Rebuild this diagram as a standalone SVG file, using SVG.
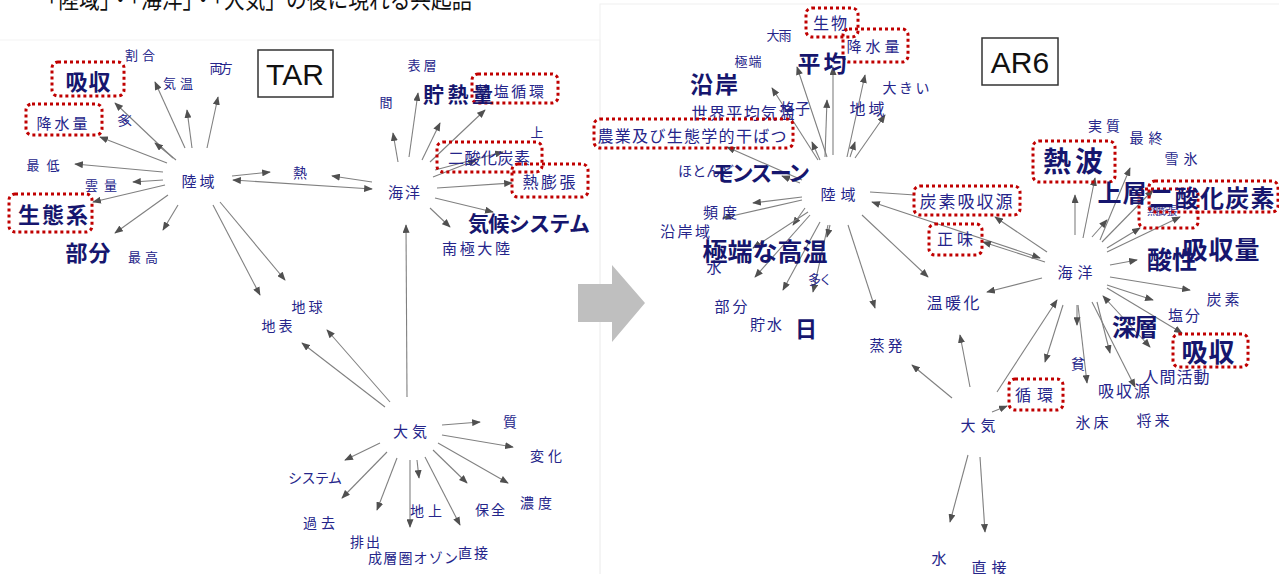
<svg xmlns="http://www.w3.org/2000/svg" width="1279" height="574" viewBox="0 0 1279 574">
<defs>
<marker id="ah" viewBox="0 0 10 8" refX="9" refY="4" markerWidth="9" markerHeight="7" markerUnits="userSpaceOnUse" orient="auto-start-reverse">
<path d="M0,0 L10,4 L0,8 Z" fill="#505050"/>
</marker>
<style>
text{font-family:"Noto Sans CJK JP","Noto Sans",sans-serif;fill:#25258a;text-anchor:middle;dominant-baseline:central}
.b{font-weight:bold;fill:#16166e}
.c{stroke:#808080;stroke-width:1.1;fill:none;marker-end:url(#ah)}
.d{stroke:#808080;stroke-width:1.1;fill:none;marker-end:url(#ah);marker-start:url(#ah)}
.n{stroke:#808080;stroke-width:1.1;fill:none}
.box{fill:none;stroke:#c00000;stroke-width:3;stroke-dasharray:3 3;rx:6}
.lab{fill:none;stroke:#333;stroke-width:1.5}
.en{font-family:"Liberation Sans",Arial,sans-serif;fill:#111;font-size:30px}
</style>
</defs>
<rect width="1279" height="574" fill="#fff"/>
<rect x="-2" y="40" width="602" height="540" fill="none" stroke="#f4f4f4"/>
<rect x="600" y="4" width="690" height="580" fill="none" stroke="#f0f0f0"/>
<text x="255" y="-3" style="font-size:24px;fill:#111" textLength="435" lengthAdjust="spacingAndGlyphs">「陸域」・「海洋」・「大気」の後に現れる共起語</text>

<polygon id="bigarrow" points="578,284 612,284 612,265 645,303 612,342 612,322 578,322" fill="#bfbfbf"/>

<g id="connectors">
<line class="c" x1="173" y1="158" x2="115" y2="103"/>
<line class="c" x1="176" y1="160" x2="155" y2="143"/>
<line class="c" x1="185" y1="148" x2="155" y2="82"/>
<line class="c" x1="192" y1="148" x2="187" y2="110"/>
<line class="c" x1="207" y1="148" x2="218" y2="97"/>
<line class="c" x1="167" y1="163" x2="100" y2="137"/>
<line class="c" x1="163" y1="172" x2="75" y2="164"/>
<line class="c" x1="163" y1="180" x2="133" y2="182"/>
<line class="c" x1="165" y1="185" x2="93" y2="202"/>
<line class="c" x1="168" y1="195" x2="115" y2="233"/>
<line class="c" x1="178" y1="205" x2="163" y2="230"/>
<line class="c" x1="213" y1="205" x2="260" y2="295"/>
<line class="c" x1="220" y1="202" x2="285" y2="280"/>
<line class="c" x1="232" y1="176" x2="270" y2="172"/>
<line class="c" x1="372" y1="182" x2="332" y2="176"/>
<line class="d" x1="233" y1="180" x2="372" y2="189"/>
<line class="c" x1="398" y1="162" x2="393" y2="133"/>
<line class="c" x1="409" y1="157" x2="418" y2="93"/>
<line class="c" x1="422" y1="160" x2="440" y2="123"/>
<line class="c" x1="430" y1="162" x2="485" y2="110"/>
<line class="c" x1="435" y1="170" x2="503" y2="152"/>
<line class="c" x1="433" y1="177" x2="476" y2="160"/>
<line class="c" x1="437" y1="188" x2="512" y2="183"/>
<line class="c" x1="435" y1="198" x2="493" y2="212"/>
<line class="c" x1="430" y1="208" x2="450" y2="227"/>
<line class="c" x1="407" y1="397" x2="406" y2="225"/>
<line class="c" x1="385" y1="407" x2="302" y2="343"/>
<line class="c" x1="390" y1="402" x2="327" y2="330"/>
<line class="c" x1="442" y1="425" x2="480" y2="422"/>
<line class="c" x1="442" y1="435" x2="513" y2="447"/>
<line class="c" x1="438" y1="443" x2="508" y2="483"/>
<line class="c" x1="433" y1="450" x2="467" y2="483"/>
<line class="c" x1="425" y1="457" x2="460" y2="525"/>
<line class="c" x1="417" y1="460" x2="419" y2="478"/>
<line class="c" x1="410" y1="460" x2="410" y2="527"/>
<line class="c" x1="397" y1="458" x2="377" y2="510"/>
<line class="c" x1="387" y1="452" x2="342" y2="498"/>
<line class="c" x1="380" y1="443" x2="345" y2="460"/>

<line class="c" x1="818" y1="160" x2="772" y2="88"/>
<line class="c" x1="827" y1="157" x2="797" y2="67"/>
<line class="c" x1="833" y1="155" x2="833" y2="67"/>
<line class="c" x1="847" y1="157" x2="865" y2="75"/>
<line class="c" x1="855" y1="158" x2="885" y2="115"/>
<line class="c" x1="825" y1="157" x2="827" y2="100"/>
<line class="c" x1="820" y1="160" x2="812" y2="142"/>
<line class="c" x1="850" y1="157" x2="855" y2="142"/>
<line class="c" x1="802" y1="180" x2="727" y2="147"/>
<line class="c" x1="800" y1="183" x2="782" y2="176"/>
<line class="c" x1="802" y1="197" x2="753" y2="203"/>
<line class="c" x1="802" y1="200" x2="723" y2="218"/>
<line class="c" x1="805" y1="208" x2="793" y2="225"/>
<line class="c" x1="808" y1="212" x2="753" y2="248"/>
<line class="c" x1="810" y1="215" x2="755" y2="277"/>
<line class="c" x1="820" y1="222" x2="783" y2="290"/>
<line class="c" x1="828" y1="225" x2="813" y2="292"/>
<line class="c" x1="830" y1="225" x2="827" y2="237"/>
<line class="c" x1="848" y1="225" x2="875" y2="308"/>
<line class="c" x1="862" y1="215" x2="928" y2="277"/>
<line class="n" x1="870" y1="192" x2="915" y2="195"/>
<line class="d" x1="872" y1="202" x2="1040" y2="258"/>
<line class="c" x1="1047" y1="252" x2="995" y2="217"/>
<line class="c" x1="1045" y1="262" x2="983" y2="242"/>

<line class="c" x1="1075" y1="235" x2="1075" y2="195"/>
<line class="c" x1="1083" y1="238" x2="1095" y2="178"/>
<line class="c" x1="1100" y1="240" x2="1130" y2="168"/>
<line class="c" x1="1092" y1="237" x2="1107" y2="220"/>
<line class="c" x1="1102" y1="242" x2="1153" y2="190"/>
<line class="c" x1="1107" y1="248" x2="1140" y2="228"/>
<line class="c" x1="1107" y1="252" x2="1180" y2="217"/>
<line class="c" x1="1110" y1="265" x2="1137" y2="260"/>
<line class="c" x1="1110" y1="277" x2="1190" y2="290"/>
<line class="c" x1="1107" y1="285" x2="1153" y2="300"/>
<line class="c" x1="1107" y1="288" x2="1182" y2="333"/>
<line class="d" x1="1150" y1="347" x2="1103" y2="296"/>
<line class="c" x1="1092" y1="302" x2="1135" y2="387"/>
<line class="c" x1="1097" y1="302" x2="1110" y2="353"/>
<line class="c" x1="1078" y1="305" x2="1087" y2="383"/>
<line class="c" x1="1077" y1="305" x2="1077" y2="325"/>
<line class="c" x1="1063" y1="305" x2="1045" y2="362"/>
<line class="c" x1="997" y1="392" x2="1057" y2="300"/>
<line class="c" x1="1042" y1="278" x2="987" y2="292"/>
<line class="c" x1="970" y1="387" x2="960" y2="335"/>
<line class="c" x1="952" y1="398" x2="912" y2="365"/>
<line class="c" x1="992" y1="412" x2="1007" y2="406"/>
<line class="c" x1="968" y1="455" x2="950" y2="522"/>
<line class="c" x1="980" y1="457" x2="985" y2="532"/>
</g>

<g id="tar-label"><rect class="lab" x="258" y="50" width="75" height="47"/><text class="en" x="295" y="74" style="fill:#111">TAR</text></g>
<g id="ar6-label"><rect class="lab" x="982" y="38" width="76" height="47"/><text class="en" x="1020" y="62" style="fill:#111">AR6</text></g>

<g id="tar-hubs">
<text x="198" y="180" style="font-size:15px" textLength="33">陸域</text>
<text x="404" y="191" style="font-size:15px" textLength="32">海洋</text>
<text x="410" y="430" style="font-size:15px" textLength="34">大気</text>
</g>

<g id="tar-rikuiki">
<text x="300" y="172" style="font-size:14px">熱</text>
<text x="140" y="54" style="font-size:13px" textLength="30">割合</text>
<rect class="box" x="52" y="62" width="72" height="34"/>
<text class="b" x="88" y="80" style="font-size:22px" textLength="45">吸収</text>
<text x="178" y="82" style="font-size:13px" textLength="30">気温</text>
<text x="221" y="67" style="font-size:13px" textLength="23">両方</text>
<text x="126" y="119" style="font-size:13px" textLength="18">多く</text>
<rect class="box" x="26" y="104" width="76" height="31"/>
<text x="62" y="122" style="font-size:15px" textLength="51">降水量</text>
<text x="43" y="164" style="font-size:13px" textLength="33">最低</text>
<text x="101" y="184" style="font-size:13px" textLength="32">雲量</text>
<rect class="box" x="9" y="194" width="83" height="38"/>
<text class="b" x="53" y="213" style="font-size:22px" textLength="70">生態系</text>
<text class="b" x="88" y="251" style="font-size:22px" textLength="45">部分</text>
<text x="143" y="256" style="font-size:13px" textLength="30">最高</text>
<text x="307" y="306" style="font-size:14px" textLength="31">地球</text>
<text x="277" y="325" style="font-size:14px" textLength="31">地表</text>
</g>

<g id="tar-kaiyo">
<text x="422" y="64" style="font-size:13px" textLength="29">表層</text>
<text x="386" y="101" style="font-size:13px">間</text>
<rect class="box" x="472" y="74" width="86" height="29"/>
<text x="510" y="90" style="font-size:15px" textLength="68">熱塩循環</text>
<text class="b" x="458" y="93" style="font-size:21px" textLength="70">貯熱量</text>
<text x="537" y="131" style="font-size:13px">上</text>
<rect class="box" x="437" y="142" width="105" height="30"/>
<text x="489" y="157" style="font-size:16px" textLength="82">二酸化炭素</text>
<rect class="box" x="512" y="164" width="76" height="33"/>
<text x="549" y="181" style="font-size:16px" textLength="53">熱膨張</text>
<text class="b" x="529" y="222" style="font-size:21px" textLength="122">気候システム</text>
<text x="476" y="247" style="font-size:15px" textLength="68">南極大陸</text>
</g>

<g id="tar-taiki">
<text x="510" y="421" style="font-size:14px">質</text>
<text x="546" y="455" style="font-size:14px" textLength="32">変化</text>
<text x="536" y="502" style="font-size:14px" textLength="32">濃度</text>
<text x="490" y="509" style="font-size:14px" textLength="30">保全</text>
<text x="473" y="552" style="font-size:14px" textLength="30">直接</text>
<text x="426" y="510" style="font-size:14px" textLength="32">地上</text>
<text x="413" y="557" style="font-size:14px" textLength="90">成層圏オゾン</text>
<text x="365" y="541" style="font-size:14px" textLength="30">排出</text>
<text x="319" y="522" style="font-size:14px" textLength="32">過去</text>
<text x="315" y="477" style="font-size:14px" textLength="54">システム</text>
</g>

<g id="ar6-hubs">
<text x="838" y="193" style="font-size:15px" textLength="35">陸域</text>
<text x="1075" y="271" style="font-size:15px" textLength="35">海洋</text>
<text x="978" y="424" style="font-size:15px" textLength="35">大気</text>
</g>

<g id="ar6-rikuiki">
<text x="779" y="34" style="font-size:13px" textLength="25">大雨</text>
<rect class="box" x="806" y="8" width="52" height="29"/>
<text x="830" y="22" style="font-size:16px" textLength="34">生物</text>
<rect class="box" x="843" y="29" width="65" height="33"/>
<text x="873" y="45" style="font-size:15px" textLength="53">降水量</text>
<text x="748" y="60" style="font-size:13px" textLength="27">極端</text>
<text class="b" x="822" y="62" style="font-size:23px" textLength="49">平均</text>
<text class="b" x="714" y="83" style="font-size:23px" textLength="48">沿岸</text>
<text x="906" y="87" style="font-size:14px" textLength="47">大きい</text>
<text x="743" y="112" style="font-size:16px" textLength="103">世界平均気温</text>
<text x="795" y="107" style="font-size:15px" textLength="30">格子</text>
<text x="867" y="108" style="font-size:16px" textLength="35">地域</text>
<rect class="box" x="594" y="119" width="199" height="29"/>
<text x="692" y="135" style="font-size:16px" textLength="189">農業及び生態学的干ばつ</text>
<text x="706" y="170" style="font-size:14px" textLength="56">ほとんど</text>
<text class="b" x="761" y="171" style="font-size:22px" textLength="98">モンスーン</text>
<text x="720" y="211" style="font-size:15px" textLength="34">頻度</text>
<text x="685" y="230" style="font-size:15px" textLength="50">沿岸域</text>
<text x="714" y="266" style="font-size:15px">水</text>
<text class="b" x="765" y="250" style="font-size:25px" textLength="125">極端な高温</text>
<text x="820" y="278" style="font-size:13px" textLength="24">多く</text>
<text x="731" y="305" style="font-size:15px" textLength="33">部分</text>
<text x="766" y="323" style="font-size:15px" textLength="32">貯水</text>
<text class="b" x="806" y="327" style="font-size:22px">日</text>
<text x="886" y="344" style="font-size:15px" textLength="33">蒸発</text>
<rect class="box" x="914" y="186" width="106" height="29"/>
<text x="966" y="200" style="font-size:17px" textLength="93">炭素吸収源</text>
<rect class="box" x="929" y="224" width="53" height="31"/>
<text x="955" y="238" style="font-size:16px" textLength="36">正味</text>
<text x="953" y="302" style="font-size:16px" textLength="53">温暖化</text>
</g>

<g id="ar6-kaiyo">
<text x="1104" y="125" style="font-size:14px" textLength="32">実質</text>
<text x="1146" y="137" style="font-size:14px" textLength="33">最終</text>
<text x="1181" y="158" style="font-size:14px" textLength="33">雪氷</text>
<rect class="box" x="1033" y="141" width="82" height="41"/>
<text class="b" x="1073" y="160" style="font-size:28px" textLength="60">熱波</text>
<rect class="box" x="1139" y="189" width="59" height="39"/>
<text x="1162" y="210" style="font-size:11px" textLength="30">熱膨張</text>
<rect class="box" x="1149" y="181" width="129" height="31"/>
<text class="b" x="1122" y="191" style="font-size:24px" textLength="49">上層</text>
<text class="b" x="1212" y="196" style="font-size:24px" textLength="125">二酸化炭素</text>
<text class="b" x="1221" y="248" style="font-size:25px" textLength="77">吸収量</text>
<text class="b" x="1172" y="258" style="font-size:25px" textLength="50">酸性</text>
<text x="1223" y="298" style="font-size:15px" textLength="33">炭素</text>
<text x="1184" y="314" style="font-size:15px" textLength="32">塩分</text>
<text class="b" x="1135" y="325" style="font-size:24px" textLength="46">深層</text>
<rect class="box" x="1173" y="334" width="75" height="33"/>
<text class="b" x="1208" y="350" style="font-size:26px" textLength="53">吸収</text>
<text x="1176" y="376" style="font-size:16px" textLength="67">人間活動</text>
<text x="1078" y="363" style="font-size:14px">貧</text>
<text x="1124" y="390" style="font-size:16px" textLength="52">吸収源</text>
<rect class="box" x="1009" y="379" width="54" height="31"/>
<text x="1034" y="394" style="font-size:16px" textLength="38">循環</text>
<text x="1092" y="421" style="font-size:15px" textLength="33">氷床</text>
<text x="1153" y="419" style="font-size:15px" textLength="33">将来</text>
</g>

<g id="ar6-taiki">
<text x="939" y="557" style="font-size:15px">水</text>
<text x="989" y="566" style="font-size:15px" textLength="35">直接</text>
</g>
</svg>
